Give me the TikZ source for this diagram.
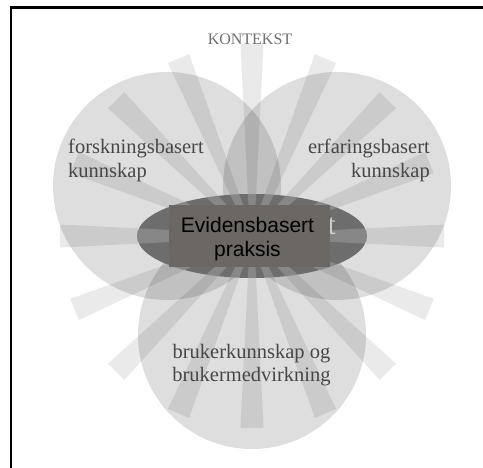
\documentclass[tikz,border=0pt]{standalone}
\usepackage{fontspec}
\setmainfont{Liberation Serif}
\newfontfamily\arialf{Liberation Sans}
\usetikzlibrary{shapes.geometric}
\definecolor{raygray}{HTML}{EAEAEA}
\definecolor{labelgray}{HTML}{474747}
\definecolor{kontgray}{HTML}{707070}
\definecolor{ellgray}{HTML}{6D6D6D}
\definecolor{rectcol}{HTML}{6B6762}
\definecolor{hidgray}{HTML}{CFCFCF}
\begin{document}
\begin{tikzpicture}[x=1pt,y=-1pt,
  raybeam/.style={fill=raygray},
  raylight/.style={fill=white,fill opacity=0.18},
  bubble/.style={circle,minimum size=228pt,inner sep=0pt,fill=black,fill opacity=0.13},
  lbl/.style={font=\fontsize{20.5}{23.5}\selectfont,text=labelgray,inner sep=0pt},
  ebpbox/.style={fill=rectcol,minimum width=161pt,minimum height=62pt,inner sep=0pt}]
\useasboundingbox (0,0) rectangle (483,468);
\fill[white] (0,0) rectangle (483,468);
% sunburst rays
\coordinate (ctr) at (252,236);
\foreach \a in {0,22.5,...,337.5}{
  \begin{scope}[shift={(ctr)},rotate=\a]
    \fill[raybeam] (0,-2) -- (192,-11.5) -- (192,11.5) -- (0,2) -- cycle;
  \end{scope}
}
% three knowledge circles
\node[bubble] (lc) at (167,186) {};
\node[bubble] (rc) at (337,186) {};
\node[bubble] (bc) at (252,335) {};
% central ellipse
\node[ellipse,fill=ellgray,minimum width=230pt,minimum height=84pt,inner sep=0pt] (ell) at (252,236) {};
\begin{scope}
  \clip (252,236) ellipse [x radius=115, y radius=42];
  \foreach \a in {0,22.5,...,337.5}{
    \begin{scope}[shift={(ctr)},rotate=\a]
      \fill[raylight] (0,-2) -- (192,-11.5) -- (192,11.5) -- (0,2) -- cycle;
    \end{scope}
  }
\end{scope}
\node[anchor=base east,inner sep=0pt,text=hidgray,font=\fontsize{29.5}{30}\selectfont] (hid) at (336,235) {t};
% labels
\node[anchor=base,inner sep=0pt,text=kontgray,font=\fontsize{16}{18}\selectfont] (kont) at (250,44.5) {KONTEKST};
\node[lbl,anchor=north west,align=left] (forsk) at (68,139) {forskningsbasert\\kunnskap};
\node[lbl,anchor=north east,align=right] (erf) at (430,139) {erfaringsbasert\\kunnskap};
\node[lbl,anchor=north,align=center] (bruk) at (251.5,344) {brukerkunnskap og\\brukermedvirkning};
% central box
\node[ebpbox] (rect) at (249.5,236) {};
\node[inner sep=0pt,align=center,font=\arialf\fontsize{21}{24}\selectfont,text=black] (ebp) at (247.5,238.7) {Evidensbasert\\praksis};
% frame
\coordinate (fb) at (11,468);
\coordinate (fc) at (11,7.5);
\coordinate (fr) at (483,7.5);
\draw[line width=2.5pt,line cap=rect] (fb) -- (fc) -- (fr);
\end{tikzpicture}
\end{document}
